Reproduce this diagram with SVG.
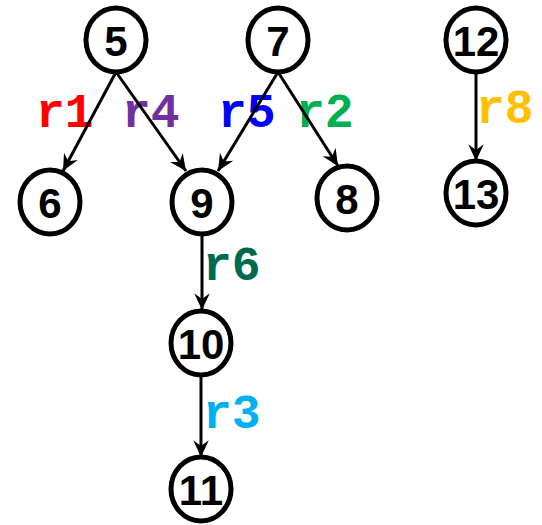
<svg xmlns="http://www.w3.org/2000/svg" width="542" height="525" viewBox="0 0 542 525">
  <style>
    .node ellipse { fill: #ffffff; stroke: #000000; stroke-width: 5; }
    .node text { font-family: "Liberation Sans", Arial, sans-serif; font-weight: bold; font-size: 42px; fill: #000000; text-anchor: middle; dominant-baseline: central; }
    .lbl { font-family: "Liberation Mono", "Courier New", monospace; font-weight: bold; font-size: 48px; }
    .edge { fill: none; stroke: #000000; stroke-width: 3; marker-end: url(#vee); }
  </style>
  <defs>
    <marker id="vee" markerUnits="userSpaceOnUse" markerWidth="20" markerHeight="20" viewBox="-16 -8 18 16" refX="0" refY="0" orient="auto">
      <path d="M0,0 L-15,-7 L-10,0 L-15,7 Z" fill="#000000"/>
    </marker>
  </defs>
  <rect width="542" height="525" fill="#ffffff"/>

  <!-- edge labels -->
  <g id="labels">
    <text class="lbl" x="36" y="127" fill="#ff0000">r1</text>
    <text class="lbl" x="122" y="127" fill="#7030a0">r4</text>
    <text class="lbl" x="218" y="127" fill="#0000ff">r5</text>
    <text class="lbl" x="296" y="127" fill="#00b050">r2</text>
    <text class="lbl" x="476" y="123" fill="#ffc000">r8</text>
    <text class="lbl" x="203" y="280" fill="#006a4e">r6</text>
    <text class="lbl" x="203" y="428" fill="#00b0f0">r3</text>
  </g>

  <!-- connectors -->
  <g id="edges">
    <line class="edge" x1="116" y1="72" x2="63" y2="171"/>
    <line class="edge" x1="116" y1="72" x2="186" y2="171"/>
    <line class="edge" x1="278" y1="72" x2="218" y2="171"/>
    <line class="edge" x1="278" y1="72" x2="338" y2="166"/>
    <line class="edge" x1="476" y1="72" x2="476" y2="161"/>
    <line class="edge" x1="202" y1="235" x2="202" y2="310"/>
    <line class="edge" x1="201" y1="376" x2="201" y2="457"/>
  </g>

  <!-- nodes -->
  <g id="n5" class="node"><ellipse cx="116" cy="40" rx="30" ry="32"/><text x="116" y="41">5</text></g>
  <g id="n7" class="node"><ellipse cx="278" cy="40" rx="30" ry="32"/><text x="278" y="41">7</text></g>
  <g id="n12" class="node"><ellipse cx="476" cy="40" rx="30" ry="32"/><text x="476" y="41">12</text></g>
  <g id="n6" class="node"><ellipse cx="50" cy="202" rx="30" ry="32"/><text x="50" y="203">6</text></g>
  <g id="n9" class="node"><ellipse cx="202" cy="202" rx="30" ry="32"/><text x="202" y="203">9</text></g>
  <g id="n8" class="node"><ellipse cx="347" cy="198" rx="30" ry="32"/><text x="347" y="199">8</text></g>
  <g id="n13" class="node"><ellipse cx="476" cy="193" rx="30" ry="32"/><text x="476" y="194">13</text></g>
  <g id="n10" class="node"><ellipse cx="201" cy="343" rx="30" ry="32"/><text x="201" y="344">10</text></g>
  <g id="n11" class="node"><ellipse cx="201" cy="489" rx="30" ry="32"/><text x="201" y="490">11</text></g>
</svg>
